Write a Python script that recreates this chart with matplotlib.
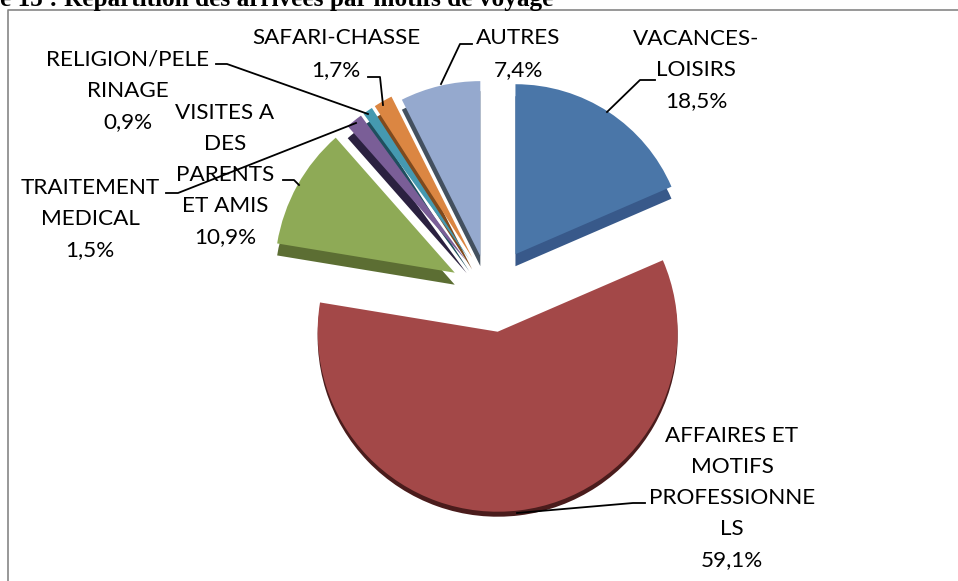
import matplotlib
matplotlib.use("Agg")
import matplotlib.pyplot as plt

# values, clockwise from the top
labels = ["VACANCES-\nLOISIRS", "AFFAIRES ET\nMOTIFS\nPROFESSIONNE\nLS", "VISITES A\nDES\nPARENTS\nET AMIS",
          "TRAITEMENT\nMEDICAL", "RELIGION/PELE\nRINAGE", "SAFARI-CHASSE", "AUTRES"]
values = [18.5, 59.1, 10.9, 1.5, 0.9, 1.7, 7.4]
title = "e 15 : Répartition des arrivées par motifs de voyage"

colors = ["#4A76A8", "#A34848", "#8EAA56", "#7A5E97", "#4599B0", "#DB8642", "#95A9CE"]
side_colors = ["#38598A", "#4A1C1C", "#5C6E33", "#2B2140", "#1F4F5E", "#7F4A1E", "#43505F"]
depths = [12, 5, 12, 12, 12, 12, 10]
explode = [50, 38, 46, 42, 42, 42, 42]
radii = [170, 180, 180, 180, 180, 180, 175]
nudge = [(-5, -2), (0, 0), (2, -1), (0, 0), (0, 0), (0, 0), (-3, -3)]

# label centres and leader lines, in pixels from the top left
label_pos = [(696, 70), (732, 498), (225, 175), (90, 219), (128, 91), (336, 54), (518, 54)]
leaders = [
    [(655, 80), (640, 80), (607, 112)],
    [(645, 503), (633, 503), (517, 513)],
    [(283, 180), (294, 180), (299, 185)],
    [(166, 193), (178, 193), (356, 123)],
    [(216, 64), (227, 64), (368, 114)],
    [(368, 77), (380, 77), (383, 105)],
    [(472, 44), (460, 44), (441, 84)],
]

W, H = 958, 581
fig = plt.figure(figsize=(W / 100, H / 100), dpi=100)
ax = fig.add_axes([0, 0, 1, 1])
center = (493, H - 294)

# side of the 3D pie: same wedges, pushed down
sides, _ = ax.pie(values, explode=explode, colors=side_colors, radius=180, center=center,
                  startangle=90, counterclock=False)
tops, _ = ax.pie(values, explode=explode, colors=colors, radius=180, center=center,
                 startangle=90, counterclock=False)
for s, t, d, r, (dx, dy) in zip(sides, tops, depths, radii, nudge):
    cx, cy = t.center
    t.set_center((cx + dx, cy + dy))
    t.set_radius(r)
    s.set_center((cx + dx, cy + dy - d))
    s.set_radius(r)

ax.set_xlim(0, W)
ax.set_ylim(0, H)
ax.set_aspect("auto")
ax.axis("off")

# chart frame
ax.plot([W, 8, 8], [H - 10, H - 10, 0], color="#868686", lw=1.2, clip_on=False)

for pts in leaders:
    ax.plot([p[0] for p in pts], [H - p[1] for p in pts], color="black", lw=1.3)

for lab, v, (x, y) in zip(labels, values, label_pos):
    txt = lab + "\n" + f"{v:.1f}%".replace(".", ",")
    ax.text(x, H - y, txt, ha="center", va="center", fontsize=16.2, family="Lato",
            linespacing=1.7, color="black")

# title is cut by the top of the picture in the original too
fig.text(0, 1 - 6 / H, title, ha="left", va="baseline", fontsize=18.2,
         family="Liberation Serif", weight="bold")

fig.savefig("out.png", dpi=100)
